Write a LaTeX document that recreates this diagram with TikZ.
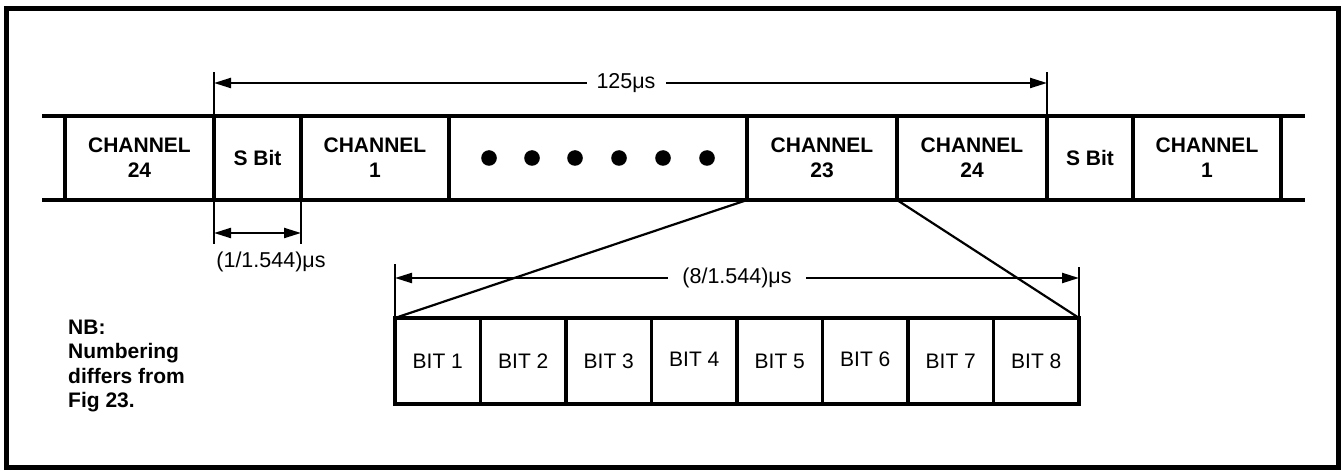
\documentclass[tikz,border=0pt]{standalone}
\usepackage{fontspec}
\setmainfont{Liberation Sans}
\usetikzlibrary{arrows.meta}
\begin{document}
\begin{tikzpicture}[x=1pt,y=-1pt,
  cell/.style={draw, line width=3.5pt, minimum height=84pt, inner sep=0pt, outer sep=0pt,
    font=\fontsize{21}{25}\selectfont\bfseries, align=center},
  bitcell/.style={draw, line width=3.3pt, minimum width=85.5pt, minimum height=86pt,
    inner sep=0pt, outer sep=0pt, font=\fontsize{21}{24}\selectfont},
  dimline/.style={line width=2.2pt,
    {Triangle[length=17pt,width=10pt]}-{Triangle[length=17pt,width=10pt]}},
  tickline/.style={line width=1.8pt},
  fan/.style={line width=2.2pt},
  stripline/.style={line width=3.5pt},
  dimlabel/.style={font=\fontsize{21.5}{24}\selectfont, inner ysep=2pt},
]
\useasboundingbox (0,0) rectangle (1341,470);
% frame
\draw[line width=5pt] (6.5,8.5) rectangle (1338,467.5);

% channel strip
\node[cell, minimum width=149pt] (c24a) at (139.5,158) {CHANNEL\\24};
\node[cell, minimum width=87pt]  (sa)   at (257.5,158) {S Bit};
\node[cell, minimum width=148pt] (c1a)  at (375,158)   {CHANNEL\\1};
\node[cell, minimum width=298pt] (dots) at (598,158)   {};
\node[cell, minimum width=150pt] (c23)  at (822,158)   {CHANNEL\\23};
\node[cell, minimum width=150pt] (c24b) at (972,158)   {CHANNEL\\24};
\node[cell, minimum width=86pt]  (sb)   at (1090,158)  {S Bit};
\node[cell, minimum width=148pt] (c1b)  at (1207,158)  {CHANNEL\\1};

\coordinate (slt) at (42,116);
\coordinate (slb) at (42,200);
\coordinate (srt) at (1305,116);
\coordinate (srb) at (1305,200);
\draw[stripline] (slt) -- (c24a.north west);
\draw[stripline] (slb) -- (c24a.south west);
\draw[stripline] (c1b.north east) -- (srt);
\draw[stripline] (c1b.south east) -- (srb);

\foreach \x in {489,532,575,619,663,707} \fill (\x,158) circle (7.8pt);

% 125 us dimension
\coordinate (tt1) at (214,72);
\coordinate (tt2) at (1047,72);
\draw[tickline] (sa.north west) -- (tt1);
\draw[tickline] (c24b.north east) -- (tt2);
\coordinate (ta1) at (214,83);
\coordinate (ta2) at (1047,83);
\draw[dimline] (ta1) -- (ta2);
\node[dimlabel, fill=white, inner xsep=10pt] (l125) at (626,83) {125μs};

% S bit dimension
\coordinate (st1) at (214,244);
\coordinate (st2) at (301,244);
\draw[tickline] (sa.south west) -- (st1);
\draw[tickline] (sa.south east) -- (st2);
\coordinate (sa1) at (214,233);
\coordinate (sa2) at (301,233);
\draw[dimline] (sa1) -- (sa2);
\node[dimlabel] (lsbit) at (271,262) {(1/1.544)μs};

% bits
\node[bitcell] (b1) at (437.75,361) {\raisebox{-2pt}{BIT 1}};
\node[bitcell] (b2) at (523.25,361) {BIT 2};
\node[bitcell] (b3) at (608.75,361) {\raisebox{-1pt}{BIT 3}};
\node[bitcell] (b4) at (694.25,361) {\raisebox{3pt}{BIT 4}};
\node[bitcell] (b5) at (779.75,361) {\raisebox{-2pt}{BIT 5}};
\node[bitcell] (b6) at (865.25,361) {\raisebox{3pt}{BIT 6}};
\node[bitcell] (b7) at (950.75,361) {\raisebox{-1pt}{BIT 7}};
\node[bitcell] (b8) at (1036.25,361) {BIT 8};

% 8 bit dimension
\coordinate (bt1) at (395,264);
\coordinate (bt2) at (1079,267);
\draw[tickline] (b1.north west) -- (bt1);
\draw[tickline] (b8.north east) -- (bt2);
\coordinate (ba1) at (395,278);
\coordinate (ba2) at (1079,278);
\draw[dimline] (ba1) -- (ba2);
\node[dimlabel, fill=white, inner xsep=14pt] (l8) at (737,278) {(8/1.544)μs};

% fan lines
\draw[fan] (c23.south west) -- (b1.north west);
\draw[fan] (c24b.south west) -- (b8.north east);

% note
\node[anchor=west, align=left, inner sep=0pt,
  font=\fontsize{21}{24.3}\selectfont\bfseries] (nb) at (68,366)
  {NB:\\Numbering\\differs from\\Fig 23.};
\end{tikzpicture}
\end{document}
